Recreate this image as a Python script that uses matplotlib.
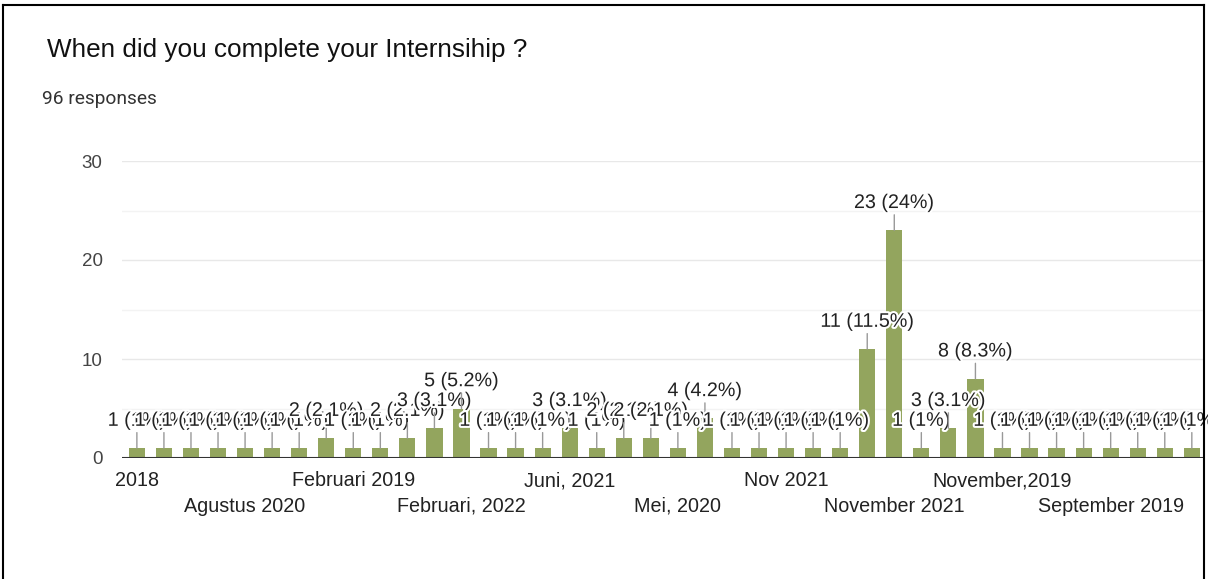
import matplotlib
matplotlib.use('Agg')
import matplotlib.pyplot as plt
import matplotlib.patheffects as pe
from matplotlib.lines import Line2D

plt.rcParams['font.family'] = ['Liberation Sans', 'DejaVu Sans']

# jawaban per kategori (96 responden)
values = [1, 1, 1, 1, 1, 1, 1, 2, 1, 1, 2, 3, 5,
          1, 1, 1, 3, 1, 2, 2, 1, 4, 1, 1, 1, 1,
          1, 11, 23, 1, 3, 8, 1, 1, 1, 1, 1, 1, 1, 1]
tick_pos = [0, 4, 8, 12, 16, 20, 24, 28, 32, 36]
tick_labels = ['2018', 'Agustus 2020', 'Februari 2019', 'Februari, 2022', 'Juni, 2021',
               'Mei, 2020', 'Nov 2021', 'November 2021', 'November,2019', 'September 2019']
total = 96

W, H = 1208, 579
fig = plt.figure(figsize=(W / 100, H / 100), dpi=100)

# bingkai
for xs, ys in [([3, 3], [0, H - 5]), ([3, 1204], [H - 5, H - 5]), ([1204, 1204], [0, H - 5])]:
    fig.add_artist(Line2D([x / W for x in xs], [y / H for y in ys], color='black', lw=1.5))

fig.text(47 / W, 1 - 50 / H, 'When did you complete your Internsihip ?', fontsize=18.8,
         color='#111111', va='center', ha='left')
fig.text(42 / W, 1 - 99 / H, '96 responses', fontsize=13.8, color='#333333',
         va='center', ha='left', family=['Roboto', 'DejaVu Sans'])

left, right = 122, 1204
top, base = 161, 458
ax = fig.add_axes([left / W, 1 - base / H, (right - left) / W, (base - top) / H])

x = list(range(len(values)))
ax.bar(x, values, width=0.6, color='#93a55e', zorder=2)

ax.set_ylim(0, 30)
ax.set_xlim(-0.55, 39.45)
ax.set_yticks([0, 10, 20, 30])
ax.set_yticks([5, 15, 25], minor=True)
ax.grid(axis='y', which='major', color='#e8e8e8', lw=1, zorder=0)
ax.grid(axis='y', which='minor', color='#f3f3f3', lw=1, zorder=0)
ax.axhline(0, color='#333333', lw=1.5, zorder=3)

ax.set_xticks(tick_pos[0::2], tick_labels[0::2])
ax.set_xticks(tick_pos[1::2], tick_labels[1::2], minor=True)
ax.tick_params(axis='x', which='both', length=0, labelsize=14.2, labelcolor='#222222')
ax.tick_params(axis='x', which='major', pad=9.5)
ax.tick_params(axis='x', which='minor', pad=28)
ax.tick_params(axis='y', which='both', length=0, labelsize=13.5, labelcolor='#444444', pad=14)

for s in ax.spines.values():
    s.set_visible(False)

for i, v in enumerate(values):
    pct = round(v / total * 100, 1)
    pct_txt = ('%g' % pct)
    ax.annotate(f'{v} ({pct_txt}%)', xy=(i, v), xytext=(0, 20), textcoords='offset points',
                ha='center', va='center', fontsize=14.2, color='#222222', zorder=4,
                path_effects=[pe.withStroke(linewidth=3, foreground='white')],
                arrowprops=dict(arrowstyle='-', color='#999999', lw=1, shrinkA=0, shrinkB=0))

fig.savefig('out.png', dpi=100, facecolor='white')
